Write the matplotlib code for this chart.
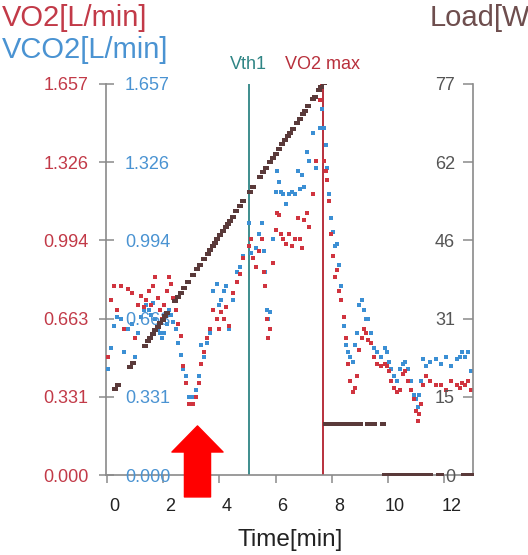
import matplotlib
matplotlib.use('Agg')
import matplotlib.pyplot as plt
from matplotlib.transforms import ScaledTranslation, blended_transform_factory

plt.rcParams['font.family'] = ['Liberation Sans', 'DejaVu Sans']

# ---------------- data ----------------
# breath times [min]
t_breath = [0.05, 0.15, 0.25, 0.35, 0.50, 0.62, 0.75, 0.88, 1.00, 1.10, 1.20, 1.30, 1.40, 1.48,
            1.56, 1.64, 1.72, 1.80, 1.88, 1.96, 2.04, 2.12, 2.20, 2.28, 2.36, 2.44, 2.52,
            2.62, 2.70, 2.80, 2.92, 3.05, 3.16, 3.26, 3.36,
            3.45, 3.55, 3.65, 3.78, 3.90, 3.98, 4.06, 4.15, 4.25, 4.35, 4.50, 4.62, 4.75, 4.85,
            5.05, 5.12, 5.20, 5.30, 5.42, 5.52, 5.58, 5.63, 5.68, 5.73, 5.80, 5.90, 6.00, 6.06,
            6.12, 6.20, 6.28, 6.38, 6.48, 6.58, 6.68, 6.78, 6.86, 6.94, 7.02, 7.10, 7.20, 7.32,
            7.45, 7.58, 7.66,
            7.72, 7.78, 7.84, 7.90, 7.96, 8.04, 8.10, 8.18, 8.26, 8.34, 8.42, 8.50, 8.58, 8.66,
            8.74, 8.82, 8.90, 8.98, 9.06, 9.14, 9.22,
            9.30, 9.40, 9.50, 9.62, 9.75, 9.88, 9.96, 10.04, 10.12, 10.22, 10.32, 10.42, 10.52,
            10.62, 10.72, 10.82, 10.92, 11.00, 11.06, 11.12, 11.18, 11.26, 11.36, 11.50, 11.70,
            11.90, 12.05, 12.25, 12.45, 12.55, 12.65, 12.75, 12.85, 12.95]

vo2 = [0.50, 0.74, 0.80, 0.70, 0.80, 0.62, 0.79, 0.77, 0.58, 0.72, 0.76, 0.71, 0.74, 0.78,
       0.72, 0.80, 0.84, 0.75, 0.70, 0.66, 0.72, 0.78, 0.84, 0.81, 0.75, 0.70, 0.64,
       0.59, 0.46, 0.39, 0.30, 0.30, 0.33, 0.39, 0.47,
       0.52, 0.58, 0.62, 0.70, 0.66, 0.62, 0.69, 0.66, 0.71, 0.63, 0.77, 0.82, 0.85, 0.92,
       0.97, 1.00, 0.92, 0.88, 0.95, 1.00, 0.86, 0.80, 0.66, 0.58, 0.62, 0.90, 1.04, 1.11,
       1.10, 1.02, 1.00, 0.98, 1.02, 0.97, 1.00, 1.09, 1.00, 0.96, 1.08, 1.11, 1.05, 1.19,
       1.33, 1.59, 1.65,
       1.33, 1.29, 1.25, 1.16, 1.02, 0.93, 0.84, 0.87, 0.78, 0.74, 0.67, 0.58, 0.47, 0.40,
       0.35, 0.37, 0.42, 0.53, 0.58, 0.62, 0.60,
       0.57, 0.56, 0.50, 0.47, 0.46, 0.47, 0.46, 0.44, 0.40, 0.37, 0.35, 0.36, 0.43,
       0.44, 0.40, 0.36, 0.32, 0.27, 0.23, 0.26, 0.30, 0.38, 0.42, 0.40, 0.38,
       0.38, 0.36, 0.40, 0.38, 0.37, 0.39, 0.38, 0.40, 0.36]

vco2 = [0.45, 0.54, 0.63, 0.67, 0.66, 0.52, 0.62, 0.64, 0.50, 0.60, 0.67, 0.70, 0.72, 0.70,
        0.68, 0.73, 0.66, 0.62, 0.60, 0.58, 0.60, 0.64, 0.70, 0.68, 0.65, 0.62, 0.56,
        0.51, 0.45, 0.42, 0.33, 0.33, 0.36, 0.42, 0.55,
        0.50, 0.56, 0.60, 0.78, 0.81, 0.72, 0.74, 0.78, 0.80, 0.62, 0.74, 0.86, 0.88, 0.93,
        1.07, 0.94, 0.92, 0.96, 1.02, 1.07, 0.95, 0.86, 0.70, 0.66, 0.69, 1.00, 1.20, 1.29,
        1.24, 1.20, 1.19, 1.15, 1.19, 1.20, 1.19, 1.29, 1.21, 1.27, 1.22, 1.37, 1.33, 1.45,
        1.30, 1.47, 1.55,
        1.47, 1.40, 1.30, 1.19, 1.09, 1.03, 0.97, 0.98, 0.89, 0.80, 0.63, 0.55, 0.52, 0.50,
        0.48, 0.55, 0.60, 0.72, 0.74, 0.70, 0.66,
        0.66, 0.60, 0.54, 0.52, 0.50, 0.54, 0.52, 0.48, 0.45, 0.42, 0.40, 0.45, 0.47,
        0.48, 0.45, 0.40, 0.34, 0.32, 0.29, 0.34, 0.40, 0.49, 0.46, 0.48, 0.49,
        0.47, 0.50, 0.46, 0.49, 0.50, 0.52, 0.50, 0.52, 0.44]

# work load [W]
t_load = [0.28, 0.40, 0.82, 0.92, 1.35, 1.45, 1.53, 1.62, 1.71, 1.80, 1.89, 1.98, 2.06, 2.15,
          2.42, 2.53, 2.62, 2.75, 2.90, 3.05, 3.20, 3.31, 3.45, 3.58, 3.67, 3.76, 3.84, 3.93,
          4.02, 4.12, 4.22, 4.30, 4.38, 4.48, 4.60, 4.73, 4.85, 5.09, 5.20, 5.43, 5.55, 5.67,
          5.80, 5.91, 6.00, 6.12, 6.23, 6.34, 6.45, 6.51, 6.62, 6.75, 6.87, 6.96, 7.05, 7.17,
          7.33, 7.40, 7.55, 7.63, 7.72,
          7.80, 7.88, 7.96, 8.04, 8.12, 8.20, 8.28, 8.36, 8.44, 8.52, 8.60, 8.68, 8.76, 8.84,
          8.92, 9.00, 9.30, 9.40, 9.50, 9.82,
          9.88, 9.96, 10.04, 10.12, 10.20, 10.28, 10.36, 10.44, 10.52, 10.60, 10.68, 10.76,
          10.84, 10.92, 11.00, 11.08, 11.16, 11.24, 11.32, 11.40, 11.48, 11.80, 11.88,
          12.70, 12.78, 12.86, 12.94]
load = [16.9, 17.8, 21.2, 22.0, 25.5, 26.3, 27.0, 27.7, 28.5, 29.2, 29.9, 30.6, 31.3, 32.0,
        34.2, 35.1, 35.8, 36.9, 38.1, 39.3, 40.5, 41.4, 42.5, 43.6, 44.3, 45.1, 45.7, 46.4,
        47.2, 48.0, 48.8, 49.4, 50.1, 50.9, 51.9, 52.9, 53.9, 55.8, 56.7, 58.6, 59.6, 60.5,
        61.6, 62.5, 63.2, 64.2, 65.1, 66.0, 66.8, 67.3, 68.2, 69.3, 70.2, 71.0, 71.7, 72.7,
        74.0, 74.5, 75.8, 76.4, 77.1,
        10.0, 10.0, 10.0, 10.0, 10.0, 10.0, 10.0, 10.0, 10.0, 10.0, 10.0, 10.0, 10.0, 10.0,
        10.0, 10.0, 10.0, 10.0, 10.0, 10.0,
        0.0, 0.0, 0.0, 0.0, 0.0, 0.0, 0.0, 0.0, 0.0, 0.0, 0.0, 0.0,
        0.0, 0.0, 0.0, 0.0, 0.0, 0.0, 0.0, 0.0, 0.0, 0.0, 0.0,
        0.0, 0.0, 0.0, 0.0]

gas_ticks = [0.0, 0.331, 0.663, 0.994, 1.326, 1.657]
gas_tick_labels = ['0.000', '0.331', '0.663', '0.994', '1.326', '1.657']
load_ticks = [0.0, 15.4, 30.8, 46.2, 61.6, 77.0]
load_tick_labels = ['0', '15', '31', '46', '62', '77']
x_ticks = [0, 2, 4, 6, 8, 10, 12]
x_tick_labels = ['0', '2', '4', '6', '8', '10', '12']

vth1_time = 5.05
vo2max_time = 7.68
arrow_time = 3.22

# ---------------- styling ----------------
RED = '#d0343f'
BLUE = '#3b8fd4'
DARK = '#5a3a3a'
TEAL = '#2f8585'
MAXRED = '#b8303c'
GRAY = '#8a8a8a'
RED_TXT = '#c23a48'
BLUE_TXT = '#4a93d2'

fig = plt.figure(figsize=(5.28, 5.55), dpi=100)
W, H = 528, 555
ax = fig.add_axes([106 / W, (H - 475) / H, 367 / W, 391 / H])
ax.set_xlim(-0.036, 13.025)
ax.set_ylim(0, 1.657)

for s in ['top', 'right']:
    ax.spines[s].set_visible(False)
for s in ['left', 'bottom']:
    ax.spines[s].set_color(GRAY)
    ax.spines[s].set_linewidth(1.2)

ax.set_yticks(gas_ticks, labels=gas_tick_labels)
ax.tick_params(axis='y', direction='inout', length=10.8, width=1.1, color=GRAY,
               labelcolor=RED_TXT, labelsize=13, pad=7.4)
ax.set_xticks(x_ticks, labels=x_tick_labels)
ax.tick_params(axis='x', direction='out', length=5.8, width=1.1, color=GRAY,
               labelcolor='#222222', labelsize=13, pad=10.5)
for lab in ax.get_xticklabels():
    lab.set_transform(lab.get_transform() + ScaledTranslation(7 / 100, 0, fig.dpi_scale_trans))

# event lines
ax.axvline(vth1_time, color=TEAL, lw=1.3, zorder=1)
ax.axvline(vo2max_time, color=MAXRED, lw=1.4, zorder=1)
bt = blended_transform_factory(ax.transData, ax.transAxes)
ax.text(vth1_time, 1.0486, 'Vth1', transform=bt, ha='center', va='center',
        fontsize=13, color=TEAL)
ax.text(vo2max_time, 1.0486, 'VO2 max', transform=bt, ha='center', va='center',
        fontsize=13, color=MAXRED)

# gas exchange points
ax.scatter(t_breath, vco2, s=8, marker='s', color=BLUE, linewidths=0, zorder=3)
ax.scatter(t_breath, vo2, s=8, marker='s', color=RED, linewidths=0, zorder=3)

# VCO2 tick labels (inside, right of left spine)
ax2 = ax.twinx()
ax2.set_ylim(0, 1.657)
for s in ax2.spines.values():
    s.set_visible(False)
ax2.set_yticks(gas_ticks, labels=gas_tick_labels)
ax2.tick_params(axis='y', length=0, labelcolor=BLUE_TXT, labelsize=13, pad=13.7)
ax2.spines['right'].set_position(('axes', 0.0))

# Load axis (right spine, labels inside)
ax3 = ax.twinx()
ax3.set_ylim(0, 77)
ax3.yaxis.tick_left()
for name, s in ax3.spines.items():
    s.set_visible(name == 'left')
ax3.spines['left'].set_position(('axes', 1.0))
ax3.spines['left'].set_color(GRAY)
ax3.spines['left'].set_linewidth(1.2)
ax3.set_yticks(load_ticks, labels=load_tick_labels)
ax3.tick_params(axis='y', direction='out', length=7.2, width=1.1, color=GRAY,
                labelcolor='#555555', labelsize=13, pad=5.8)
dash = [(-1, -0.65), (1, -0.65), (1, 0.65), (-1, 0.65)]
ax3.scatter(t_load, load, s=18, marker=dash, color=DARK, linewidths=0, zorder=3)

# red arrow annotation
ax.annotate('', xy=(arrow_time, 0.208), xytext=(arrow_time, -0.093),
            arrowprops=dict(arrowstyle='simple,head_length=0.94,head_width=1.84,tail_width=0.94',
                            color='#ff0000', shrinkA=0, shrinkB=0, mutation_scale=20),
            annotation_clip=False, zorder=5)

# titles
fig.text(2 / W, 1 - 18 / H, 'VO2[L/min]', ha='left', va='center', fontsize=21, color=RED_TXT)
fig.text(2 / W, 1 - 50 / H, 'VCO2[L/min]', ha='left', va='center', fontsize=21, color=BLUE_TXT)
fig.text(430 / W, 1 - 18 / H, 'Load[W]', ha='left', va='center', fontsize=21, color='#6e4e4e')
fig.text(290 / W, 1 - 540 / H, 'Time[min]', ha='center', va='center', fontsize=17.5,
         color='#222222')

fig.savefig('out.png', dpi=100, facecolor='white')
